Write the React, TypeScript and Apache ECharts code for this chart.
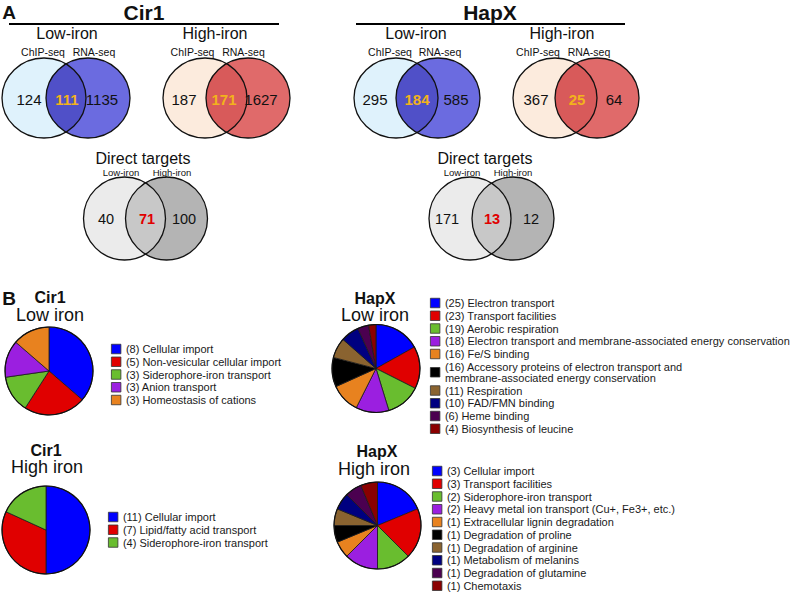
import React, { useEffect, useRef } from "react";
import * as echarts from "echarts";

const FONT = "'Liberation Sans', Arial, Helvetica, sans-serif";

// ---------- Venn data ----------
const vennSubLabels = ["ChIP-seq", "RNA-seq"];
const directSubLabels = ["Low-iron", "High-iron"];
const cir1LowVenn = [124, 111, 1135];
const cir1HighVenn = [187, 171, 1627];
const hapxLowVenn = [295, 184, 585];
const hapxHighVenn = [367, 25, 64];
const cir1Direct = [40, 71, 100];
const hapxDirect = [171, 13, 12];

// ---------- Pie data ----------
const cir1LowCats = [
  "Cellular import",
  "Non-vesicular cellular import",
  "Siderophore-iron transport",
  "Anion transport",
  "Homeostasis of cations",
];
const cir1LowCounts = [8, 5, 3, 3, 3];
const cir1HighCats = ["Cellular import", "Lipid/fatty acid transport", "Siderophore-iron transport"];
const cir1HighCounts = [11, 7, 4];
const hapxLowCats = [
  "Electron transport",
  "Transport facilities",
  "Aerobic respiration",
  "Electron transport and membrane-associated energy conservation",
  "Fe/S binding",
  "Accessory proteins of electron transport and\nmembrane-associated energy conservation",
  "Respiration",
  "FAD/FMN binding",
  "Heme binding",
  "Biosynthesis of leucine",
];
const hapxLowCounts = [25, 23, 19, 18, 16, 16, 11, 10, 6, 4];
const hapxHighCats = [
  "Cellular import",
  "Transport facilities",
  "Siderophore-iron transport",
  "Heavy metal ion transport (Cu+, Fe3+, etc.)",
  "Extracellular lignin degradation",
  "Degradation of proline",
  "Degradation of arginine",
  "Metabolism of melanins",
  "Degradation of glutamine",
  "Chemotaxis",
];
const hapxHighCounts = [3, 3, 2, 2, 1, 1, 1, 1, 1, 1];

const BLUE = "#0000ff";
const RED = "#e00000";
const GREEN = "#69bd2f";
const PURPLE = "#9b1fe0";
const ORANGE = "#e8821f";
const BLACK = "#000000";
const BROWN = "#8a6330";
const NAVY = "#000080";
const DPURPLE = "#4b0050";
const DRED = "#8a0000";
const cir1LowColors = [BLUE, RED, GREEN, PURPLE, ORANGE];
const cir1HighColors = [BLUE, RED, GREEN];
const hapxColors = [BLUE, RED, GREEN, PURPLE, ORANGE, BLACK, BROWN, NAVY, DPURPLE, DRED];

// ---------- helpers ----------
const txt = (text: string, x: number, y: number, size: number, extra: any = {}) => ({
  type: "text",
  z: 20,
  silent: true,
  style: {
    text,
    x,
    y,
    fontSize: size,
    fontFamily: FONT,
    fill: "#111",
    align: "center",
    verticalAlign: "middle",
    textAlign: "center",
    textVerticalAlign: "middle",
    ...extra,
  },
});

const registered: Record<string, boolean> = {};
function lensShape(name: string, cx1: number, cx2: number, cy: number, rx: number, ry: number) {
  const dx = (cx2 - cx1) / 2;
  const mx = (cx1 + cx2) / 2;
  const h = ry * Math.sqrt(1 - (dx * dx) / (rx * rx));
  const d = `M ${mx} ${cy - h} A ${rx} ${ry} 0 0 1 ${mx} ${cy + h} A ${rx} ${ry} 0 0 1 ${mx} ${cy - h} Z`;
  if (!registered[name]) {
    echarts.graphic.registerShape(name, echarts.graphic.extendPath(d, {}) as any);
    registered[name] = true;
  }
  return name;
}

type VennSpec = {
  name: string;
  c1: number;
  c2: number;
  cy: number;
  rx: number;
  ry: number;
  fills: [string, string, string];
  values: number[];
  numX: number[];
  numY: number;
  numSize: number;
  midColor: string;
  stroke: string;
};

function vennElements(v: VennSpec) {
  const lens = lensShape(v.name, v.c1, v.c2, v.cy, v.rx, v.ry);
  const sh = (cx: number) => ({ cx, cy: v.cy, rx: v.rx, ry: v.ry });
  const els: any[] = [
    { type: "ellipse", z: 1, silent: true, shape: sh(v.c1), style: { fill: v.fills[0] } },
    { type: "ellipse", z: 2, silent: true, shape: sh(v.c2), style: { fill: v.fills[2] } },
    { type: lens, z: 3, silent: true, x: 0, y: 0, style: { fill: v.fills[1] } },
    { type: "ellipse", z: 4, silent: true, shape: sh(v.c1), style: { fill: "none", stroke: v.stroke, lineWidth: 1.3 } },
    { type: "ellipse", z: 4, silent: true, shape: sh(v.c2), style: { fill: "none", stroke: v.stroke, lineWidth: 1.3 } },
  ];
  v.values.forEach((val, i) => {
    els.push(
      txt(String(val), v.numX[i], v.numY, v.numSize, i === 1 ? { fill: v.midColor, fontWeight: "bold" } : {})
    );
  });
  return els;
}

const pieNames = (cats: string[], counts: number[]) => cats.map((c, i) => `(${counts[i]}) ${c}`);

function pieSeries(cats: string[], counts: number[], colors: string[], cx: number, cy: number, r: number) {
  const names = pieNames(cats, counts);
  return {
    type: "pie",
    center: [cx, cy],
    radius: [0, r],
    startAngle: 90,
    clockwise: true,
    silent: true,
    label: { show: false },
    labelLine: { show: false },
    emphasis: { disabled: true },
    itemStyle: { borderColor: "#1a1a1a", borderWidth: 0.8 },
    data: counts.map((v, i) => ({ name: names[i], value: v, itemStyle: { color: colors[i] } })),
  };
}

function legendOpt(cats: string[], counts: number[], left: number, top: number) {
  return {
    orient: "vertical",
    left,
    top,
    padding: 0,
    itemWidth: 9.5,
    itemHeight: 9.5,
    itemGap: 1.75,
    icon: "rect",
    selectedMode: false,
    itemStyle: { borderColor: "#333", borderWidth: 0.8 },
    textStyle: { fontSize: 11, lineHeight: 11, fontFamily: FONT, color: "#1a1a1a", padding: 0 },
    data: pieNames(cats, counts),
  };
}

export default function App() {
  const ref = useRef<HTMLDivElement>(null);
  useEffect(() => {
    document.body.style.margin = "0";
    if (!ref.current) return;
    const chart = echarts.init(ref.current, undefined, { renderer: "svg" });

    const orange = "#f2b21c";
    const dRed = "#e00000";

    const venns: VennSpec[] = [
      { name: "lensCir1Low", c1: 44, c2: 88, cy: 98, rx: 42, ry: 40, fills: ["#dff2fc", "#5050c8", "#6b6be0"], values: cir1LowVenn, numX: [29, 67, 102], numY: 99, numSize: 15, midColor: orange, stroke: "#111" },
      { name: "lensCir1High", c1: 205, c2: 248, cy: 98, rx: 42, ry: 40, fills: ["#fcebdd", "#d85a5a", "#e06a6a"], values: cir1HighVenn, numX: [184, 224, 261], numY: 99, numSize: 15, midColor: orange, stroke: "#111" },
      { name: "lensHapxLow", c1: 396, c2: 438, cy: 98, rx: 42, ry: 40, fills: ["#dff2fc", "#5050c8", "#6b6be0"], values: hapxLowVenn, numX: [375, 417, 456], numY: 99, numSize: 15, midColor: orange, stroke: "#111" },
      { name: "lensHapxHigh", c1: 555, c2: 597, cy: 98, rx: 42, ry: 40, fills: ["#fcebdd", "#d85a5a", "#e06a6a"], values: hapxHighVenn, numX: [536, 577, 614], numY: 99, numSize: 15, midColor: orange, stroke: "#111" },
      { name: "lensCir1Dir", c1: 124.5, c2: 166.5, cy: 218.5, rx: 41, ry: 41.5, fills: ["#ebebeb", "#c8c8c8", "#b4b4b4"], values: cir1Direct, numX: [106, 147, 184], numY: 219, numSize: 14.5, midColor: dRed, stroke: "#111" },
      { name: "lensHapxDir", c1: 470, c2: 513, cy: 218.5, rx: 41, ry: 41.5, fills: ["#ebebeb", "#c8c8c8", "#b4b4b4"], values: hapxDirect, numX: [447, 492, 531], numY: 219, numSize: 14.5, midColor: dRed, stroke: "#111" },
    ];

    const elements: any[] = [];
    venns.forEach((v) => elements.push(...vennElements(v)));

    // Panel A headers
    elements.push(txt("A", 9, 12, 19, { fontWeight: "bold" }));
    elements.push(txt("Cir1", 144, 12, 21, { fontWeight: "bold" }));
    elements.push(txt("HapX", 490, 12, 21, { fontWeight: "bold" }));
    elements.push({ type: "line", z: 5, silent: true, shape: { x1: 9, y1: 24, x2: 279, y2: 24 }, style: { stroke: "#000", lineWidth: 2 } });
    elements.push({ type: "line", z: 5, silent: true, shape: { x1: 356, y1: 24, x2: 625, y2: 24 }, style: { stroke: "#000", lineWidth: 2 } });

    elements.push(txt("Low-iron", 67, 33, 16));
    elements.push(txt("High-iron", 215, 33, 16));
    elements.push(txt("Low-iron", 416, 33, 16));
    elements.push(txt("High-iron", 562, 33, 16));

    const subs: [number, number][] = [[43, 94], [192.5, 243.5], [390, 440], [538, 589]];
    subs.forEach(([a, b]) => {
      elements.push(txt(vennSubLabels[0], a, 51.5, 10.5));
      elements.push(txt(vennSubLabels[1], b, 51.5, 10.5));
    });

    elements.push(txt("Direct targets", 143, 158, 16));
    elements.push(txt(directSubLabels[0], 121, 172, 9.5));
    elements.push(txt(directSubLabels[1], 172, 172, 9.5));
    elements.push(txt("Direct targets", 485, 158, 16));
    elements.push(txt(directSubLabels[0], 462, 172, 9.5));
    elements.push(txt(directSubLabels[1], 513, 172, 9.5));

    // Panel B headers
    elements.push(txt("B", 9, 298, 19, { fontWeight: "bold" }));
    elements.push(txt("Cir1", 50, 297, 16, { fontWeight: "bold" }));
    elements.push(txt("Low iron", 50, 315, 18));
    elements.push(txt("Cir1", 46, 450, 16, { fontWeight: "bold" }));
    elements.push(txt("High iron", 47, 467, 18));
    elements.push(txt("HapX", 375, 298, 16, { fontWeight: "bold" }));
    elements.push(txt("Low iron", 375, 315, 18));
    elements.push(txt("HapX", 377, 451, 16, { fontWeight: "bold" }));
    elements.push(txt("High iron", 374, 469, 18));

    // pie outer rings
    const pies: [number, number, number][] = [[49, 371, 44], [46, 530, 44], [376, 368.5, 44], [377.5, 525.5, 43.5]];
    pies.forEach(([cx, cy, r]) =>
      elements.push({ type: "circle", z: 30, silent: true, shape: { cx, cy, r }, style: { fill: "none", stroke: "#111", lineWidth: 1.2 } })
    );

    chart.setOption({
      animation: false,
      backgroundColor: "#ffffff",
      textStyle: { fontFamily: FONT },
      graphic: { elements },
      legend: [
        legendOpt(cir1LowCats, cir1LowCounts, 111, 343.5),
        legendOpt(cir1HighCats, cir1HighCounts, 108, 511.5),
        legendOpt(hapxLowCats, hapxLowCounts, 430, 297.5),
        legendOpt(hapxHighCats, hapxHighCounts, 432, 465.5),
      ],
      series: [
        pieSeries(cir1LowCats, cir1LowCounts, cir1LowColors, 49, 371, 44),
        pieSeries(cir1HighCats, cir1HighCounts, cir1HighColors, 46, 530, 44),
        pieSeries(hapxLowCats, hapxLowCounts, hapxColors, 376, 368.5, 44),
        pieSeries(hapxHighCats, hapxHighCounts, hapxColors, 377.5, 525.5, 43.5),
      ],
    });
    return () => chart.dispose();
  }, []);
  return <div ref={ref} style={{ width: 792, height: 593 }} />;
}
